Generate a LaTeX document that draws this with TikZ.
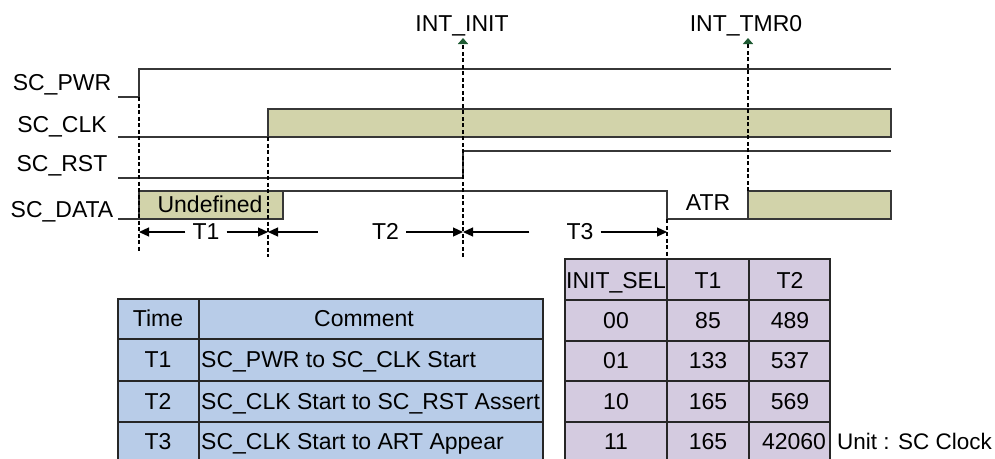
\documentclass[tikz,border=0pt]{standalone}
\usepackage{fontspec}
\setmainfont{Liberation Sans}
\usetikzlibrary{arrows.meta}
\definecolor{olivefill}{RGB}{210,211,170}
\definecolor{bluefill}{RGB}{184,204,232}
\definecolor{purplefill}{RGB}{212,203,224}
\definecolor{arrowgreen}{RGB}{30,90,50}
\definecolor{sig}{RGB}{55,55,55}
\begin{document}
\begin{tikzpicture}[x=1pt,y=-1pt,
  txt/.style={font=\fontsize{23}{27}\selectfont, inner sep=0pt, anchor=base, text=black},
  tlab/.style={txt, inner xsep=7pt},
  sigline/.style={draw=sig, line width=1.5pt},
  sigbox/.style={draw=sig, line width=1.5pt, fill=olivefill},
  guide/.style={draw=black, line width=1.8pt, dash pattern=on 4pt off 2.5pt},
  intarrow/.style={guide, -{Triangle[length=6pt,width=10pt,color=arrowgreen]}},
  tarrow/.style={draw=black, line width=1.2pt, -{Triangle[length=10pt,width=9pt]}},
  cellb/.style={draw=black!85, line width=1.5pt, fill=bluefill},
  cellp/.style={draw=black!85, line width=1.5pt, fill=purplefill},
  grid/.style={draw=black!85, line width=1.5pt},
]
\useasboundingbox (0,0) rectangle (995,458);

% ---------- signal labels
\node[txt] (lpwr)  at (62,90)  {SC\_PWR};
\node[txt] (lclk)  at (62,132) {SC\_CLK};
\node[txt] (lrst)  at (62,171) {SC\_RST};
\node[txt] (ldata) at (62,217) {SC\_DATA};

% ---------- signals
\draw[sigline] (118,97) -- (139,97) -- (139,69) -- (891,69);
\draw[sigline] (118,137) -- (268,137);
\draw[sigbox] (268,109) rectangle (891,137);
\draw[sigline] (118,178) -- (463,178) -- (463,151) -- (891,151);
\draw[sigline] (118,219) -- (139,219);
\draw[sigbox] (139,191) rectangle (283,219);
\draw[sigline] (283,191) -- (667,191) -- (667,219) -- (748,219);
\draw[sigbox] (748,191) rectangle (891,219);
\node[txt] (undef) at (210,212) {Undefined};
\node[txt] (atr) at (708,210) {ATR};

% ---------- guide coordinates
\coordinate (g1top) at (139,97);   \coordinate (g1bot) at (139,251);
\coordinate (g2top) at (268,137);  \coordinate (g2bot) at (268,257);
\coordinate (g3top) at (463,38);   \coordinate (g3bot) at (463,257);
\coordinate (g4top) at (667,219);  \coordinate (g4bot) at (667,259);
\coordinate (g5top) at (748,38);   \coordinate (g5bot) at (748,191);

\draw[guide] (g1top) -- (g1bot);
\draw[guide] (g2top) -- (g2bot);
\draw[guide] (g4top) -- (g4bot);
\draw[intarrow] (g3bot) -- (g3top);
\draw[intarrow] (g5bot) -- (g5top);

\node[txt] (intinit) at (462,31) {INT\_INIT};
\node[txt] (inttmr)  at (746,31) {INT\_TMR0};

% ---------- time arrows
\node[tlab] (t1) at (206,239) {T1};
\node[tlab] (t2) at (362,239) {\hspace{47pt}T2\hspace{14pt}};
\node[tlab] (t3) at (565,239) {\hspace{30pt}T3\hspace{22pt}};
\coordinate (ay) at (0,232);
\draw[tarrow] (t1.west |- ay) -- (g1top |- ay);
\draw[tarrow] (t1.east |- ay) -- (g2top |- ay);
\draw[tarrow] (t2.west |- ay) -- (g2top |- ay);
\draw[tarrow] (t2.east |- ay) -- (g3top |- ay);
\draw[tarrow] (t3.west |- ay) -- (g3top |- ay);
\draw[tarrow] (t3.east |- ay) -- (g4top |- ay);

% ---------- left table
\filldraw[cellb] (118,299) rectangle (543,480);
\draw[grid] (199,299) -- (199,480);
\draw[grid] (118,339) -- (543,339);
\draw[grid] (118,381) -- (543,381);
\draw[grid] (118,422) -- (543,422);
\node[txt] (hTime) at (158,326.5) {Time};
\node[txt] (hCom)  at (364,326.5) {Comment};
\node[txt] (rT1) at (158,367.5) {T1};
\node[txt] (rT2) at (158,409) {T2};
\node[txt] (rT3) at (158,449) {T3};
\node[txt, anchor=base west] (c1) at (201,367.5) {SC\_PWR to SC\_CLK Start};
\node[txt, anchor=base west] (c2) at (201,409) {SC\_CLK Start to SC\_RST Assert};
\node[txt, anchor=base west] (c3) at (201,449) {SC\_CLK Start to ART Appear};

% ---------- right table
\filldraw[cellp] (565,259) rectangle (830,480);
\draw[grid] (667,259) -- (667,480);
\draw[grid] (749,259) -- (749,480);
\draw[grid] (565,300) -- (830,300);
\draw[grid] (565,341) -- (830,341);
\draw[grid] (565,381) -- (830,381);
\draw[grid] (565,422) -- (830,422);
\node[txt] (hSel) at (616,288) {INIT\_SEL};
\node[txt] (hT1)  at (708,288) {T1};
\node[txt] (hT2)  at (790,288) {T2};
\node[txt] at (616,328) {00};  \node[txt] at (708,328) {85};  \node[txt] at (790,328) {489};
\node[txt] at (616,368.5) {01};  \node[txt] at (708,368.5) {133}; \node[txt] at (790,368.5) {537};
\node[txt] at (616,409) {10};  \node[txt] at (708,409) {165}; \node[txt] at (790,409) {569};
\node[txt] at (616,449) {11};  \node[txt] at (708,449) {165}; \node[txt] at (794,449) {42060};
\node[txt, anchor=base west, font=\fontsize{22.5}{27}\selectfont] (unit) at (837,449) {Unit : SC Clock};
\end{tikzpicture}
\end{document}
